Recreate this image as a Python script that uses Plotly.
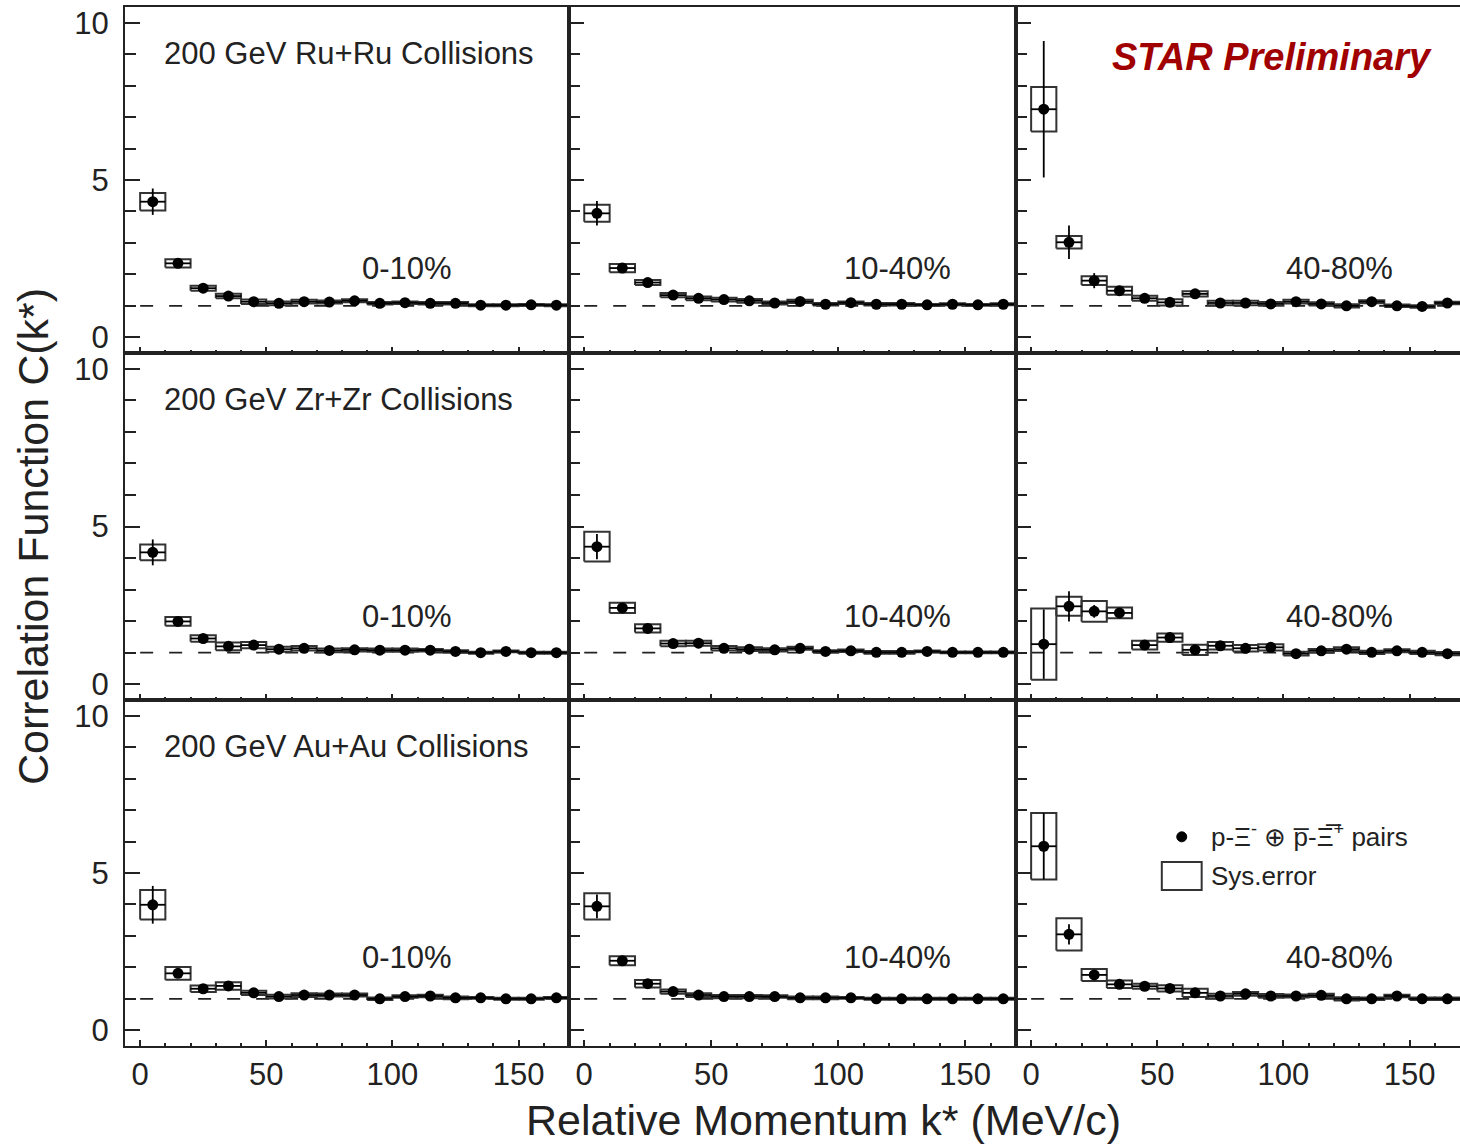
import plotly.graph_objects as go

# ---------------- data ----------------
K = [5, 15, 25, 35, 45, 55, 65, 75, 85, 95, 105, 115, 125, 135, 145, 155, 165]

RU_0_10 = [4.31, 2.35, 1.56, 1.31, 1.13, 1.08, 1.13, 1.12, 1.16, 1.08, 1.10, 1.08, 1.08, 1.02, 1.02, 1.03, 1.02]
RU_0_10_STAT = [0.42, 0.10, 0.07, 0.05, 0.04, 0.04, 0.03, 0.03, 0.03, 0.03, 0.03, 0.03, 0.03, 0.02, 0.02, 0.02, 0.02]
RU_0_10_SYS = [0.28, 0.13, 0.08, 0.07, 0.07, 0.06, 0.06, 0.05, 0.05, 0.04, 0.04, 0.04, 0.04, 0.03, 0.03, 0.03, 0.03]

RU_10_40 = [3.94, 2.20, 1.74, 1.34, 1.24, 1.20, 1.16, 1.09, 1.14, 1.05, 1.10, 1.05, 1.05, 1.03, 1.05, 1.03, 1.05]
RU_10_40_STAT = [0.39, 0.10, 0.07, 0.05, 0.04, 0.04, 0.03, 0.03, 0.03, 0.03, 0.03, 0.03, 0.03, 0.02, 0.02, 0.02, 0.02]
RU_10_40_SYS = [0.27, 0.13, 0.08, 0.07, 0.06, 0.06, 0.06, 0.05, 0.05, 0.04, 0.04, 0.04, 0.04, 0.03, 0.03, 0.03, 0.03]

RU_40_80 = [7.25, 3.02, 1.80, 1.48, 1.24, 1.11, 1.38, 1.09, 1.09, 1.06, 1.13, 1.06, 1.00, 1.13, 1.00, 0.98, 1.09]
RU_40_80_STAT = [2.17, 0.53, 0.24, 0.15, 0.10, 0.08, 0.07, 0.06, 0.06, 0.05, 0.05, 0.05, 0.04, 0.04, 0.04, 0.04, 0.04]
RU_40_80_SYS = [0.71, 0.20, 0.14, 0.13, 0.08, 0.10, 0.08, 0.07, 0.07, 0.06, 0.06, 0.05, 0.05, 0.05, 0.04, 0.04, 0.04]

ZR_0_10 = [4.18, 1.99, 1.45, 1.20, 1.24, 1.11, 1.14, 1.07, 1.09, 1.08, 1.08, 1.08, 1.04, 1.00, 1.04, 1.00, 1.00]
ZR_0_10_STAT = [0.41, 0.10, 0.07, 0.05, 0.04, 0.04, 0.03, 0.03, 0.03, 0.03, 0.03, 0.03, 0.03, 0.02, 0.02, 0.02, 0.02]
ZR_0_10_SYS = [0.25, 0.14, 0.10, 0.12, 0.10, 0.08, 0.07, 0.06, 0.05, 0.05, 0.05, 0.04, 0.04, 0.03, 0.03, 0.03, 0.03]

ZR_10_40 = [4.36, 2.42, 1.77, 1.29, 1.30, 1.14, 1.11, 1.09, 1.14, 1.04, 1.06, 1.01, 1.01, 1.04, 1.01, 1.01, 1.01]
ZR_10_40_STAT = [0.40, 0.10, 0.07, 0.05, 0.04, 0.04, 0.03, 0.03, 0.03, 0.03, 0.03, 0.03, 0.03, 0.02, 0.02, 0.02, 0.02]
ZR_10_40_SYS = [0.47, 0.16, 0.13, 0.09, 0.08, 0.07, 0.06, 0.05, 0.05, 0.04, 0.04, 0.04, 0.04, 0.03, 0.03, 0.03, 0.03]

ZR_40_80 = [1.27, 2.47, 2.31, 2.26, 1.24, 1.48, 1.09, 1.22, 1.14, 1.17, 0.97, 1.06, 1.11, 1.01, 1.06, 1.01, 0.97]
ZR_40_80_STAT = [1.10, 0.48, 0.20, 0.12, 0.10, 0.08, 0.07, 0.06, 0.06, 0.05, 0.05, 0.05, 0.04, 0.04, 0.04, 0.04, 0.04]
ZR_40_80_SYS = [1.13, 0.30, 0.33, 0.17, 0.14, 0.13, 0.16, 0.12, 0.10, 0.10, 0.06, 0.06, 0.06, 0.05, 0.05, 0.05, 0.05]

AU_0_10 = [3.99, 1.81, 1.32, 1.41, 1.19, 1.07, 1.12, 1.12, 1.12, 1.00, 1.07, 1.09, 1.03, 1.03, 1.00, 1.00, 1.03]
AU_0_10_STAT = [0.60, 0.12, 0.07, 0.06, 0.05, 0.04, 0.04, 0.03, 0.03, 0.03, 0.03, 0.03, 0.03, 0.02, 0.02, 0.02, 0.02]
AU_0_10_SYS = [0.47, 0.20, 0.10, 0.12, 0.07, 0.06, 0.06, 0.05, 0.05, 0.04, 0.04, 0.04, 0.04, 0.03, 0.03, 0.03, 0.03]

AU_10_40 = [3.94, 2.21, 1.48, 1.23, 1.12, 1.07, 1.07, 1.07, 1.03, 1.03, 1.03, 1.00, 1.00, 1.00, 1.00, 1.00, 1.00]
AU_10_40_STAT = [0.38, 0.08, 0.06, 0.05, 0.04, 0.03, 0.03, 0.03, 0.03, 0.03, 0.02, 0.02, 0.02, 0.02, 0.02, 0.02, 0.02]
AU_10_40_SYS = [0.42, 0.14, 0.12, 0.07, 0.06, 0.05, 0.05, 0.04, 0.04, 0.04, 0.03, 0.03, 0.03, 0.03, 0.03, 0.03, 0.03]

AU_40_80 = [5.85, 3.05, 1.76, 1.46, 1.40, 1.33, 1.19, 1.09, 1.16, 1.09, 1.09, 1.11, 1.00, 1.00, 1.09, 1.00, 1.00]
AU_40_80_STAT = [1.05, 0.32, 0.15, 0.10, 0.08, 0.07, 0.06, 0.05, 0.05, 0.05, 0.04, 0.04, 0.04, 0.04, 0.04, 0.04, 0.04]
AU_40_80_SYS = [1.06, 0.51, 0.19, 0.12, 0.08, 0.10, 0.13, 0.07, 0.06, 0.06, 0.05, 0.05, 0.05, 0.04, 0.04, 0.04, 0.04]

SYSTEMS = ["200 GeV Ru+Ru Collisions", "200 GeV Zr+Zr Collisions", "200 GeV Au+Au Collisions"]
CENTRALITIES = ["0-10%", "10-40%", "40-80%"]
X_TICKS = [0, 50, 100, 150]
Y_TICKS = [0, 5, 10]

PANELS = [
    [(RU_0_10, RU_0_10_STAT, RU_0_10_SYS), (RU_10_40, RU_10_40_STAT, RU_10_40_SYS), (RU_40_80, RU_40_80_STAT, RU_40_80_SYS)],
    [(ZR_0_10, ZR_0_10_STAT, ZR_0_10_SYS), (ZR_10_40, ZR_10_40_STAT, ZR_10_40_SYS), (ZR_40_80, ZR_40_80_STAT, ZR_40_80_SYS)],
    [(AU_0_10, AU_0_10_STAT, AU_0_10_SYS), (AU_10_40, AU_10_40_STAT, AU_10_40_SYS), (AU_40_80, AU_40_80_STAT, AU_40_80_SYS)],
]

# ---------------- layout geometry ----------------
W, H = 1460, 1146
ML, MR, MT, MB = 125, 0, 7, 100
PW, PH = W - ML - MR, H - MT - MB
col_px = [(125, 569), (569, 1016), (1016, 1460)]
row_px = [(7, 353), (353, 700), (700, 1046)]
col_dom = [((a - ML) / PW, (b - ML) / PW) for a, b in col_px]
row_dom = [((H - MB - b) / PH, (H - MB - a) / PH) for a, b in row_px]

FONT = "Liberation Sans, Arial, sans-serif"
TXT = "#222222"
LINE = "#222222"
HALF_BIN = 5

fig = go.Figure()
layout = dict(
    width=W, height=H,
    margin=dict(l=ML, r=MR, t=MT, b=MB, pad=0),
    paper_bgcolor="white", plot_bgcolor="white",
    showlegend=False,
    font=dict(family=FONT, color=TXT),
    shapes=[], annotations=[],
)

cent_x = [87.2, 101.3, 100.1]
cent_y = [2.18, 2.14, 2.32]

for r in range(3):
    for c in range(3):
        n = r * 3 + c + 1
        xs = "x" if n == 1 else f"x{n}"
        ys = "y" if n == 1 else f"y{n}"
        xa = "xaxis" if n == 1 else f"xaxis{n}"
        ya = "yaxis" if n == 1 else f"yaxis{n}"
        vals, stat, sys = PANELS[r][c]

        layout[xa] = dict(
            domain=list(col_dom[c]), anchor=ys, range=[-6, 170],
            tickmode="array", tickvals=X_TICKS,
            ticks="inside", ticklen=6, tickwidth=1.5, tickcolor=LINE,
            minor=dict(tickmode="linear", tick0=0, dtick=10, ticks="inside", ticklen=3, tickwidth=1.5, tickcolor=LINE),
            showline=True, linewidth=2, linecolor=LINE, mirror=True,
            showgrid=False, zeroline=False,
            showticklabels=(r == 2), tickfont=dict(size=31, family=FONT, color=TXT),
            ticklabelstandoff=0,
        )
        layout[ya] = dict(
            domain=list(row_dom[r]), anchor=xs, range=[-0.5, 10.5],
            tickmode="array", tickvals=Y_TICKS,
            ticks="inside", ticklen=15, tickwidth=1.5, tickcolor=LINE,
            minor=dict(tickmode="linear", tick0=0, dtick=1, ticks="inside", ticklen=11, tickwidth=1.5, tickcolor=LINE),
            showline=True, linewidth=2, linecolor=LINE, mirror=(c < 2),
            showgrid=False, zeroline=False,
            showticklabels=(c == 0), tickfont=dict(size=31, family=FONT, color=TXT),
            ticklabelstandoff=8,
        )

        # reference line at C = 1
        layout["shapes"].append(dict(
            type="line", xref=xs, yref=ys, x0=0, x1=170, y0=1, y1=1,
            line=dict(color=LINE, width=1.8, dash="13px,16px"), layer="below",
        ))

        # systematic boxes
        bx, by = [], []
        for k, v, s in zip(K, vals, sys):
            bx += [k - HALF_BIN, k + HALF_BIN, k + HALF_BIN, k - HALF_BIN, k - HALF_BIN, None]
            by += [v - s, v - s, v + s, v + s, v - s, None]
        fig.add_trace(go.Scatter(
            x=bx, y=by, xaxis=xs, yaxis=ys, mode="lines",
            line=dict(color="#333333", width=2), hoverinfo="skip",
        ))

        # data points with stat errors
        fig.add_trace(go.Scatter(
            x=K, y=vals, xaxis=xs, yaxis=ys, mode="markers",
            marker=dict(color="black", size=11),
            error_y=dict(type="data", array=stat, visible=True, color="black", thickness=1.8, width=0),
            error_x=dict(type="constant", value=HALF_BIN, visible=True, color="black", thickness=1.8, width=0),
        ))

        layout["annotations"].append(dict(
            xref=xs, yref=ys, x=cent_x[c], y=cent_y[r], text=CENTRALITIES[c],
            showarrow=False, xanchor="left", yanchor="middle",
            font=dict(size=31, family=FONT, color=TXT),
        ))
        if c == 0:
            layout["annotations"].append(dict(
                xref=xs, yref=ys, x=8.6, y=9.03, text=SYSTEMS[r],
                showarrow=False, xanchor="left", yanchor="middle",
                font=dict(size=31, family=FONT, color=TXT),
            ))

# STAR Preliminary
layout["annotations"].append(dict(
    xref="x3", yref="y3", x=95.5, y=8.92, text="STAR Preliminary",
    showarrow=False, xanchor="center", yanchor="middle",
    font=dict(size=38, family=FONT, color="#a00000", weight="bold", style="italic"),
))

# legend (panel 9)
layout["shapes"].append(dict(
    type="circle", xref="x9", yref="y9", xsizemode="pixel", ysizemode="pixel",
    xanchor=59.7, yanchor=6.15, x0=-5, x1=5, y0=-5, y1=5,
    fillcolor="black", line=dict(color="black", width=1),
))
layout["shapes"].append(dict(
    type="rect", xref="x9", yref="y9", x0=51.8, x1=67.6, y0=4.46, y1=5.35,
    line=dict(color="#333333", width=2), fillcolor="rgba(0,0,0,0)",
))
layout["annotations"].append(dict(
    xref="x9", yref="y9", x=70.4, y=6.2,
    text="p-\u039e<sup>-</sup> \u2295 p\u0305-\u039e\u0305<sup>+</sup> pairs",
    showarrow=False, xanchor="left", yanchor="middle",
    font=dict(size=26, family=FONT, color=TXT),
))
layout["annotations"].append(dict(
    xref="x9", yref="y9", x=70.6, y=4.9, text="Sys.error",
    showarrow=False, xanchor="left", yanchor="middle",
    font=dict(size=26, family=FONT, color=TXT),
))

# axis titles
layout["annotations"].append(dict(
    xref="paper", yref="paper", x=(823 - ML) / PW, y=(H - MB - 1120) / PH,
    text="Relative Momentum k* (MeV/c)", showarrow=False,
    xanchor="center", yanchor="middle", font=dict(size=43, family=FONT, color=TXT),
))
layout["annotations"].append(dict(
    xref="paper", yref="paper", x=(33 - ML) / PW, y=(H - MB - 537) / PH,
    text="Correlation Function C(k*)", showarrow=False, textangle=-90,
    xanchor="center", yanchor="middle", font=dict(size=43, family=FONT, color=TXT),
))

fig.update_layout(**layout)
fig.write_html("out.html")
